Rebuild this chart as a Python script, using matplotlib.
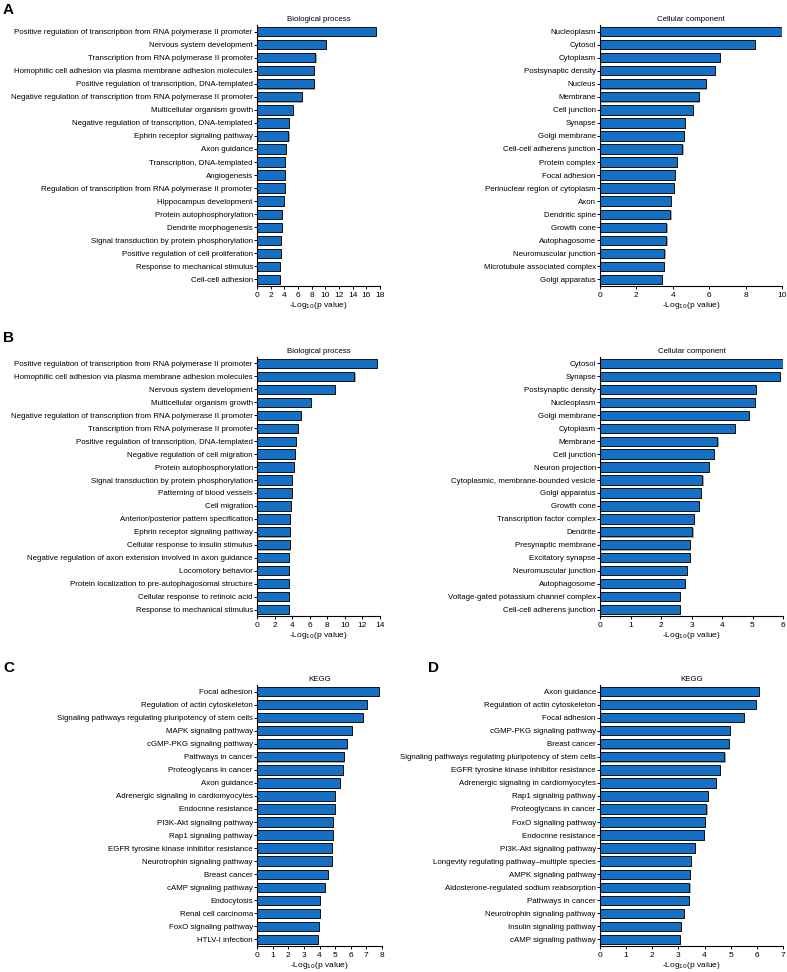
import matplotlib
matplotlib.use("Agg")
import matplotlib.pyplot as plt
import matplotlib.patheffects as pe
import numpy as np

plt.rcParams['font.family'] = ['Liberation Sans', 'DejaVu Sans']

# Panel A - biological process
a_bp_terms = [
    "Positive regulation of transcription from RNA polymerase II promoter",
    "Nervous system development",
    "Transcription from RNA polymerase II promoter",
    "Homophilic cell adhesion via plasma membrane adhesion molecules",
    "Positive regulation of transcription, DNA-templated",
    "Negative regulation of transcription from RNA polymerase II promoter",
    "Multicellular organism growth",
    "Negative regulation of transcription, DNA-templated",
    "Ephrin receptor signaling pathway",
    "Axon guidance",
    "Transcription, DNA-templated",
    "Angiogenesis",
    "Regulation of transcription from RNA polymerase II promoter",
    "Hippocampus development",
    "Protein autophosphorylation",
    "Dendrite morphogenesis",
    "Signal transduction by protein phosphorylation",
    "Positive regulation of cell proliferation",
    "Response to mechanical stimulus",
    "Cell-cell adhesion",
]
a_bp_vals = [17.4, 10.05, 8.55, 8.35, 8.3, 6.55, 5.3, 4.65, 4.6, 4.3,
             4.15, 4.1, 4.05, 3.9, 3.65, 3.65, 3.55, 3.5, 3.4, 3.35]

# Panel A - cellular component
a_cc_terms = [
    "Nucleoplasm", "Cytosol", "Cytoplasm", "Postsynaptic density", "Nucleus",
    "Membrane", "Cell junction", "Synapse", "Golgi membrane",
    "Cell-cell adherens junction", "Protein complex", "Focal adhesion",
    "Perinuclear region of cytoplasm", "Axon", "Dendritic spine", "Growth cone",
    "Autophagosome", "Neuromuscular junction", "Microtubule associated complex",
    "Golgi apparatus",
]
a_cc_vals = [10.0, 8.5, 6.6, 6.33, 5.8, 5.43, 5.1, 4.66, 4.59, 4.53,
             4.22, 4.13, 4.07, 3.91, 3.87, 3.65, 3.65, 3.54, 3.5, 3.41]

# Panel B - biological process
b_bp_terms = [
    "Positive regulation of transcription from RNA polymerase II promoter",
    "Homophilic cell adhesion via plasma membrane adhesion molecules",
    "Nervous system development",
    "Multicellular organism growth",
    "Negative regulation of transcription from RNA polymerase II promoter",
    "Transcription from RNA polymerase II promoter",
    "Positive regulation of transcription, DNA-templated",
    "Negative regulation of cell migration",
    "Protein autophosphorylation",
    "Signal transduction by protein phosphorylation",
    "Patterning of blood vessels",
    "Cell migration",
    "Anterior/posterior pattern specification",
    "Ephrin receptor signaling pathway",
    "Cellular response to insulin stimulus",
    "Negative regulation of axon extension involved in axon guidance",
    "Locomotory behavior",
    "Protein localization to pre-autophagosomal structure",
    "Cellular response to retinoic acid",
    "Response to mechanical stimulus",
]
b_bp_vals = [13.66, 11.09, 8.85, 6.13, 5.03, 4.62, 4.46, 4.35, 4.2, 4.01,
             3.93, 3.82, 3.78, 3.78, 3.71, 3.67, 3.67, 3.63, 3.63, 3.6]

# Panel B - cellular component
b_cc_terms = [
    "Cytosol", "Synapse", "Postsynaptic density", "Nucleoplasm",
    "Golgi membrane", "Cytoplasm", "Membrane", "Cell junction",
    "Neuron projection", "Cytoplasmic, membrane-bounded vesicle",
    "Golgi apparatus", "Growth cone", "Transcription factor complex",
    "Dendrite", "Presynaptic membrane", "Excitatory synapse",
    "Neuromuscular junction", "Autophagosome",
    "Voltage-gated potassium channel complex", "Cell-cell adherens junction",
]
b_cc_vals = [5.99, 5.89, 5.11, 5.08, 4.87, 4.43, 3.85, 3.74, 3.56, 3.36,
             3.32, 3.25, 3.08, 3.03, 2.96, 2.95, 2.84, 2.78, 2.62, 2.62]

# Panel C - KEGG
c_kegg_terms = [
    "Focal adhesion", "Regulation of actin cytoskeleton",
    "Signaling pathways regulating pluripotency of stem cells",
    "MAPK signaling pathway", "cGMP-PKG signaling pathway",
    "Pathways in cancer", "Proteoglycans in cancer", "Axon guidance",
    "Adrenergic signaling in cardiomyocytes", "Endocrine resistance",
    "PI3K-Akt signaling pathway", "Rap1 signaling pathway",
    "EGFR tyrosine kinase inhibitor resistance",
    "Neurotrophin signaling pathway", "Breast cancer",
    "cAMP signaling pathway", "Endocytosis", "Renal cell carcinoma",
    "FoxO signaling pathway", "HTLV-I infection",
]
c_kegg_vals = [7.83, 7.01, 6.8, 6.06, 5.76, 5.54, 5.5, 5.29, 4.99, 4.99,
               4.88, 4.84, 4.82, 4.78, 4.56, 4.37, 4.03, 4.01, 3.99, 3.88]

# Panel D - KEGG
d_kegg_terms = [
    "Axon guidance", "Regulation of actin cytoskeleton", "Focal adhesion",
    "cGMP-PKG signaling pathway", "Breast cancer",
    "Signaling pathways regulating pluripotency of stem cells",
    "EGFR tyrosine kinase inhibitor resistance",
    "Adrenergic signaling in cardiomyocytes", "Rap1 signaling pathway",
    "Proteoglycans in cancer", "FoxO signaling pathway",
    "Endocrine resistance", "PI3K-Akt signaling pathway",
    "Longevity regulating pathway\u2013multiple species",
    "AMPK signaling pathway", "Aldosterone-regulated sodium reabsorption",
    "Pathways in cancer", "Neurotrophin signaling pathway",
    "Insulin signaling pathway", "cAMP signaling pathway",
]
d_kegg_vals = [6.07, 5.97, 5.5, 4.96, 4.93, 4.76, 4.58, 4.42, 4.12, 4.07,
               4.03, 3.97, 3.64, 3.49, 3.44, 3.42, 3.4, 3.21, 3.09, 3.05]

W, H = 787, 972
fig = plt.figure(figsize=(W / 100, H / 100), dpi=100)

BAR = "#1470c4"
FS = 5.7


def px_axes(x0, x1, top, bottom):
    return fig.add_axes([x0 / W, 1 - bottom / H, (x1 - x0) / W, (bottom - top) / H])


def panel(ax, terms, vals, title, xmax, step):
    y = np.arange(len(terms))
    bars = ax.barh(y, vals, height=0.72, color=BAR, edgecolor="#111111",
                   linewidth=0.7)
    for b in bars:
        b.set_path_effects([pe.SimplePatchShadow(offset=(0.8, -0.8),
                                                 shadow_rgbFace="#9a9a9a", alpha=0.9),
                            pe.Normal()])
    ax.set_ylim(len(terms) - 0.5, -0.5)
    ax.set_xlim(0, xmax)
    ax.set_yticks(y)
    ax.set_yticklabels(terms, fontsize=FS)
    ax.set_xticks(np.arange(0, xmax + step / 2, step))
    ax.tick_params(axis="x", labelsize=FS + 0.3, length=2.5, width=0.7, pad=1.5)
    ax.tick_params(axis="y", length=2, width=0.7, pad=1)
    for s in ("top", "right"):
        ax.spines[s].set_visible(False)
    for s in ("left", "bottom"):
        ax.spines[s].set_linewidth(0.8)
    ax.set_title(title, fontsize=FS, pad=3)
    ax.set_xlabel("-Log$_{10}$(p value)", fontsize=FS + 0.3, labelpad=1)


ax = px_axes(257, 380, 25, 286)
panel(ax, a_bp_terms, a_bp_vals, "Biological process", 18, 2)
ax = px_axes(600, 782, 25, 286)
panel(ax, a_cc_terms, a_cc_vals, "Cellular component", 10, 2)
ax = px_axes(257, 380, 357, 616)
panel(ax, b_bp_terms, b_bp_vals, "Biological process", 14, 2)
ax = px_axes(600, 783, 357, 616)
panel(ax, b_cc_terms, b_cc_vals, "Cellular component", 6, 1)
ax = px_axes(257, 382, 685, 946)
panel(ax, c_kegg_terms, c_kegg_vals, "KEGG", 8, 1)
ax = px_axes(600, 783, 685, 946)
panel(ax, d_kegg_terms, d_kegg_vals, "KEGG", 7, 1)

for letter, x, y in [("A", 3, 10), ("B", 3, 338), ("C", 3, 668), ("D", 428, 668)]:
    fig.text(x / W, 1 - y / H, letter, fontsize=11, fontweight="bold",
             va="center", ha="left")

fig.savefig("out.png", dpi=100)
